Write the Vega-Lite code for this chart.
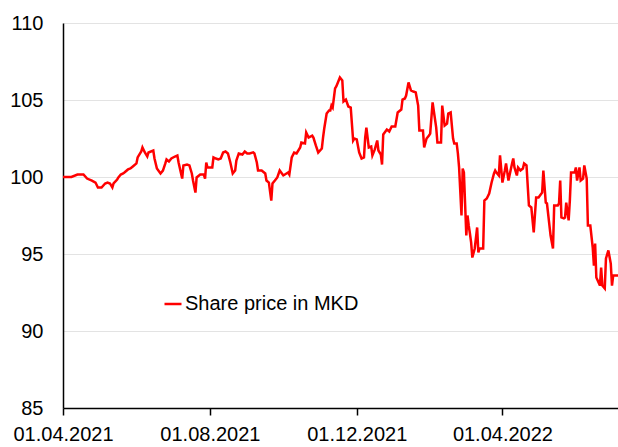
{
  "$schema": "https://vega.github.io/schema/vega-lite/v6.json",
  "width": 555,
  "height": 385,
  "autosize": {"type": "none"},
  "padding": {"left": 63, "top": 23, "right": 0, "bottom": 39},
  "background": "white",
  "config": {"view": {"stroke": null}, "font": "Liberation Sans"},
  "data": {"values": [
    {"date":"2021-04-01","price":100.0},{"date":"2021-04-08","price":100.0},{"date":"2021-04-13","price":100.16},{"date":"2021-04-18","price":100.16},
    {"date":"2021-04-21","price":99.9},{"date":"2021-04-25","price":99.77},{"date":"2021-04-28","price":99.64},{"date":"2021-04-30","price":99.32},
    {"date":"2021-05-03","price":99.32},{"date":"2021-05-06","price":99.58},{"date":"2021-05-08","price":99.64},{"date":"2021-05-10","price":99.58},
    {"date":"2021-05-12","price":99.32},{"date":"2021-05-13","price":99.58},{"date":"2021-05-16","price":99.84},{"date":"2021-05-17","price":99.97},
    {"date":"2021-05-19","price":100.16},{"date":"2021-05-21","price":100.23},{"date":"2021-05-22","price":100.29},{"date":"2021-05-25","price":100.49},
    {"date":"2021-05-27","price":100.55},{"date":"2021-05-29","price":100.68},{"date":"2021-06-01","price":100.88},{"date":"2021-06-02","price":101.27},
    {"date":"2021-06-05","price":101.66},{"date":"2021-06-06","price":101.92},{"date":"2021-06-08","price":101.59},{"date":"2021-06-10","price":101.33},
    {"date":"2021-06-11","price":101.59},{"date":"2021-06-15","price":101.72},{"date":"2021-06-16","price":101.2},{"date":"2021-06-18","price":100.55},
    {"date":"2021-06-21","price":100.23},{"date":"2021-06-23","price":100.42},{"date":"2021-06-25","price":100.88},{"date":"2021-06-26","price":101.14},
    {"date":"2021-06-28","price":101.01},{"date":"2021-06-30","price":101.2},{"date":"2021-07-03","price":101.33},{"date":"2021-07-05","price":101.4},
    {"date":"2021-07-06","price":100.94},{"date":"2021-07-09","price":99.9},{"date":"2021-07-10","price":100.75},{"date":"2021-07-13","price":100.81},
    {"date":"2021-07-15","price":100.75},{"date":"2021-07-17","price":100.23},{"date":"2021-07-18","price":99.77},{"date":"2021-07-20","price":98.99},
    {"date":"2021-07-21","price":99.97},{"date":"2021-07-24","price":100.16},{"date":"2021-07-27","price":100.16},{"date":"2021-07-28","price":99.9},
    {"date":"2021-07-29","price":100.94},{"date":"2021-07-30","price":100.62},{"date":"2021-08-03","price":100.62},{"date":"2021-08-04","price":101.27},
    {"date":"2021-08-06","price":101.2},{"date":"2021-08-08","price":101.14},{"date":"2021-08-10","price":101.2},{"date":"2021-08-12","price":101.59},
    {"date":"2021-08-14","price":101.66},{"date":"2021-08-16","price":101.53},{"date":"2021-08-18","price":100.94},{"date":"2021-08-20","price":100.23},
    {"date":"2021-08-22","price":100.42},{"date":"2021-08-23","price":101.07},{"date":"2021-08-25","price":101.53},{"date":"2021-08-28","price":101.46},
    {"date":"2021-08-30","price":101.66},{"date":"2021-09-01","price":101.53},{"date":"2021-09-03","price":101.53},{"date":"2021-09-06","price":101.6},
    {"date":"2021-09-07","price":101.53},{"date":"2021-09-09","price":100.94},{"date":"2021-09-10","price":100.42},{"date":"2021-09-13","price":100.42},
    {"date":"2021-09-16","price":100.23},{"date":"2021-09-17","price":99.77},{"date":"2021-09-19","price":99.64},{"date":"2021-09-21","price":98.47},
    {"date":"2021-09-22","price":99.58},{"date":"2021-09-24","price":99.77},{"date":"2021-09-26","price":99.97},{"date":"2021-09-28","price":100.42},
    {"date":"2021-10-01","price":100.1},{"date":"2021-10-05","price":100.29},{"date":"2021-10-06","price":100.16},{"date":"2021-10-08","price":101.27},
    {"date":"2021-10-10","price":101.59},{"date":"2021-10-12","price":101.53},{"date":"2021-10-15","price":101.92},{"date":"2021-10-16","price":102.24},
    {"date":"2021-10-19","price":102.18},{"date":"2021-10-20","price":102.89},{"date":"2021-10-22","price":102.56},{"date":"2021-10-25","price":102.69},
    {"date":"2021-10-26","price":102.56},{"date":"2021-10-28","price":102.05},{"date":"2021-10-30","price":101.59},{"date":"2021-11-02","price":101.85},
    {"date":"2021-11-03","price":102.56},{"date":"2021-11-04","price":103.15},{"date":"2021-11-06","price":104.12},{"date":"2021-11-08","price":104.32},
    {"date":"2021-11-09","price":104.32},{"date":"2021-11-10","price":104.64},{"date":"2021-11-11","price":104.51},{"date":"2021-11-13","price":105.75},
    {"date":"2021-11-14","price":105.88},{"date":"2021-11-15","price":106.07},{"date":"2021-11-17","price":106.46},{"date":"2021-11-19","price":106.27},
    {"date":"2021-11-20","price":104.9},{"date":"2021-11-22","price":105.03},{"date":"2021-11-24","price":104.58},{"date":"2021-11-26","price":104.51},
    {"date":"2021-11-28","price":102.37},{"date":"2021-11-29","price":102.5},{"date":"2021-12-01","price":102.44},{"date":"2021-12-03","price":101.59},
    {"date":"2021-12-05","price":101.2},{"date":"2021-12-07","price":101.27},{"date":"2021-12-08","price":102.56},{"date":"2021-12-09","price":103.21},
    {"date":"2021-12-11","price":101.92},{"date":"2021-12-13","price":101.98},{"date":"2021-12-14","price":101.4},{"date":"2021-12-16","price":101.79},
    {"date":"2021-12-18","price":102.37},{"date":"2021-12-19","price":101.72},{"date":"2021-12-21","price":101.46},{"date":"2021-12-22","price":100.81},
    {"date":"2021-12-23","price":102.76},{"date":"2021-12-26","price":103.08},{"date":"2021-12-28","price":102.95},{"date":"2021-12-30","price":103.28},
    {"date":"2022-01-02","price":103.28},{"date":"2022-01-04","price":104.19},{"date":"2022-01-07","price":104.38},{"date":"2022-01-08","price":105.03},
    {"date":"2022-01-10","price":105.1},{"date":"2022-01-11","price":105.29},{"date":"2022-01-13","price":106.14},{"date":"2022-01-15","price":105.62},
    {"date":"2022-01-17","price":105.55},{"date":"2022-01-19","price":105.49},{"date":"2022-01-21","price":104.64},{"date":"2022-01-22","price":103.02},
    {"date":"2022-01-25","price":103.02},{"date":"2022-01-26","price":101.92},{"date":"2022-01-28","price":102.5},{"date":"2022-01-30","price":102.69},
    {"date":"2022-01-31","price":102.82},{"date":"2022-02-02","price":104.84},{"date":"2022-02-05","price":103.21},{"date":"2022-02-06","price":102.24},
    {"date":"2022-02-09","price":102.24},{"date":"2022-02-10","price":104.64},{"date":"2022-02-12","price":103.34},{"date":"2022-02-14","price":103.47},
    {"date":"2022-02-15","price":104.12},{"date":"2022-02-17","price":104.19},{"date":"2022-02-19","price":102.5},{"date":"2022-02-20","price":102.18},
    {"date":"2022-02-22","price":102.18},{"date":"2022-02-23","price":101.53},{"date":"2022-02-24","price":100.62},{"date":"2022-02-26","price":97.5},
    {"date":"2022-02-27","price":100.55},{"date":"2022-02-28","price":100.29},{"date":"2022-03-02","price":96.2},{"date":"2022-03-03","price":97.5},
    {"date":"2022-03-04","price":96.85},{"date":"2022-03-05","price":96.33},{"date":"2022-03-06","price":95.75},{"date":"2022-03-07","price":94.77},
    {"date":"2022-03-09","price":95.36},{"date":"2022-03-11","price":96.72},{"date":"2022-03-12","price":95.1},{"date":"2022-03-13","price":95.36},
    {"date":"2022-03-16","price":95.36},{"date":"2022-03-17","price":98.47},{"date":"2022-03-19","price":98.6},{"date":"2022-03-21","price":98.93},
    {"date":"2022-03-23","price":99.64},{"date":"2022-03-25","price":100.23},{"date":"2022-03-26","price":100.42},{"date":"2022-03-27","price":100.29},
    {"date":"2022-03-29","price":100.1},{"date":"2022-03-30","price":101.4},{"date":"2022-04-01","price":99.64},{"date":"2022-04-03","price":100.42},
    {"date":"2022-04-04","price":100.88},{"date":"2022-04-06","price":99.77},{"date":"2022-04-09","price":100.88},{"date":"2022-04-10","price":101.2},
    {"date":"2022-04-11","price":100.62},{"date":"2022-04-13","price":100.1},{"date":"2022-04-14","price":100.62},{"date":"2022-04-16","price":100.42},
    {"date":"2022-04-18","price":100.55},{"date":"2022-04-19","price":100.88},{"date":"2022-04-21","price":100.75},{"date":"2022-04-23","price":98.15},
    {"date":"2022-04-25","price":98.02},{"date":"2022-04-27","price":96.4},{"date":"2022-04-29","price":98.67},{"date":"2022-05-01","price":98.67},
    {"date":"2022-05-04","price":98.99},{"date":"2022-05-05","price":100.42},{"date":"2022-05-07","price":98.34},{"date":"2022-05-08","price":98.28},
    {"date":"2022-05-11","price":96.2},{"date":"2022-05-13","price":95.36},{"date":"2022-05-14","price":98.15},{"date":"2022-05-17","price":98.15},
    {"date":"2022-05-18","price":98.28},{"date":"2022-05-19","price":99.77},{"date":"2022-05-20","price":97.37},{"date":"2022-05-22","price":97.31},
    {"date":"2022-05-23","price":97.37},{"date":"2022-05-24","price":98.34},{"date":"2022-05-26","price":97.18},{"date":"2022-05-27","price":98.47},
    {"date":"2022-05-28","price":100.29},{"date":"2022-05-31","price":100.29},{"date":"2022-06-01","price":100.62},{"date":"2022-06-02","price":99.77},
    {"date":"2022-06-04","price":100.62},{"date":"2022-06-05","price":99.77},{"date":"2022-06-07","price":99.9},{"date":"2022-06-08","price":100.75},
    {"date":"2022-06-10","price":99.9},{"date":"2022-06-11","price":96.85},{"date":"2022-06-13","price":96.85},{"date":"2022-06-15","price":95.42},
    {"date":"2022-06-16","price":94.25},{"date":"2022-06-17","price":95.68},{"date":"2022-06-18","price":93.47},{"date":"2022-06-21","price":92.95},
    {"date":"2022-06-22","price":94.12},{"date":"2022-06-23","price":92.95},{"date":"2022-06-25","price":92.76},{"date":"2022-06-26","price":94.71},
    {"date":"2022-06-28","price":95.23},{"date":"2022-06-30","price":94.38},{"date":"2022-07-01","price":92.95},{"date":"2022-07-02","price":93.6},
    {"date":"2022-07-04","price":93.6},{"date":"2022-07-06","price":93.6}
  ]},
  "mark": {"type": "line", "strokeWidth": 2.5, "clip": true},
  "encoding": {
    "x": {
      "field": "date", "type": "temporal",
      "scale": {"type": "utc", "domain": [{"year": 2021, "month": 4, "date": 1, "utc": true}, {"year": 2022, "month": 7, "date": 6, "utc": true}]},
      "axis": {
        "title": null,
        "values": [{"year": 2021, "month": 4, "date": 1, "utc": true}, {"year": 2021, "month": 8, "date": 1, "utc": true}, {"year": 2021, "month": 12, "date": 1, "utc": true}, {"year": 2022, "month": 4, "date": 1, "utc": true}],
        "labelExpr": "utcFormat(datum.value, '%d.%m.%Y')",
        "grid": false,
        "domainColor": "#000", "domainWidth": 1.5,
        "tickColor": "#000", "tickWidth": 1.5, "tickSize": 7,
        "labelFontSize": 20, "labelColor": "#000", "labelPadding": 9, "labelFlush": false, "labelOverlap": false
      }
    },
    "y": {
      "field": "price", "type": "quantitative",
      "scale": {"domain": [85, 110], "nice": false, "zero": false},
      "axis": {
        "title": null,
        "values": [85, 90, 95, 100, 105, 110],
        "grid": true, "gridColor": "#e3e3e3", "gridWidth": 1,
        "ticks": false,
        "domainColor": "#000", "domainWidth": 1.5,
        "labelFontSize": 20, "labelColor": "#000", "labelPadding": 20
      }
    },
    "color": {
      "datum": "Share price in MKD",
      "scale": {"range": ["#ff0000"]},
      "legend": {
        "title": null, "orient": "none", "legendX": 100, "legendY": 271,
        "symbolType": "stroke", "symbolSize": 289, "symbolStrokeWidth": 2.5,
        "labelFontSize": 20, "labelColor": "#000", "labelOffset": 2, "labelLimit": 400
      }
    }
  }
}
